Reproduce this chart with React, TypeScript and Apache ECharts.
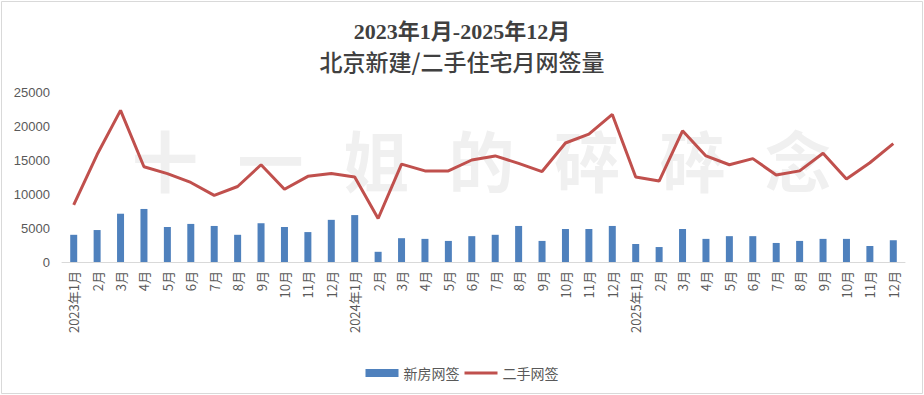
import React, { useEffect, useRef } from "react";
import * as echarts from "echarts";

const titleLine1 = "2023年1月-2025年12月";
const titleLine2 = "北京新建/二手住宅月网签量";
const seriesNames = ["新房网签", "二手网签"];
const watermarkChars = ["十", "一", "姐", "的", "碎", "碎", "念"];

const categories = [
  "2023年1月", "2月", "3月", "4月", "5月", "6月", "7月", "8月", "9月", "10月", "11月", "12月",
  "2024年1月", "2月", "3月", "4月", "5月", "6月", "7月", "8月", "9月", "10月", "11月", "12月",
  "2025年1月", "2月", "3月", "4月", "5月", "6月", "7月", "8月", "9月", "10月", "11月", "12月",
];

const newHouse = [
  4000, 4700, 7100, 7800, 5150, 5600, 5300, 4000, 5700, 5150, 4400, 6200,
  6900, 1500, 3500, 3400, 3100, 3800, 4000, 5300, 3100, 4850, 4850, 5300,
  2650, 2200, 4850, 3400, 3800, 3800, 2800, 3100, 3400, 3400, 2350, 3200,
];

const resale = [
  8400, 15800, 22300, 14000, 13000, 11700, 9800, 11100, 14300, 10700, 12600, 13000,
  12500, 6400, 14400, 13400, 13400, 15000, 15600, 14500, 13300, 17500, 18800, 21700,
  12500, 11900, 19300, 15600, 14300, 15200, 12800, 13400, 16000, 12200, 14600, 17400,
];

const yMax = 25000;
const yInterval = 5000;

export default function App() {
  const ref = useRef<HTMLDivElement>(null);
  useEffect(() => {
    document.body.style.margin = "0";
    if (!ref.current) return;
    const chart = echarts.init(ref.current, null, { renderer: "svg" });
    const cjk = '"Noto Sans CJK SC", "Noto Sans", sans-serif';
    chart.setOption({
      animation: false,
      backgroundColor: "#ffffff",
      title: [
        {
          text: titleLine1,
          left: "center",
          top: 15,
          textStyle: {
            fontFamily: '"Liberation Serif", "Noto Sans CJK SC", serif',
            fontWeight: "bold",
            fontSize: 22,
            color: "#404040",
          },
        },
        {
          text: titleLine2,
          left: "center",
          top: 44,
          textStyle: {
            fontFamily: cjk,
            fontWeight: 500,
            fontSize: 23,
            color: "#404040",
          },
        },
      ],
      graphic: [
        {
          type: "rect",
          shape: { x: 1.5, y: 1.5, width: 921, height: 392 },
          style: { fill: "none", stroke: "#d9d9d9", lineWidth: 1 },
          z: 0,
        },
        ...watermarkChars.map((c, i) => ({
          type: "text",
          x: 165 + i * 105.5,
          y: 158,
          z: 0,
          style: {
            text: c,
            fontSize: 66,
            fontFamily: cjk,
            fontWeight: "bold",
            fill: "#f0f0f0",
            align: "center",
            verticalAlign: "middle",
          },
        })),
      ],
      legend: {
        left: "center",
        top: 361,
        itemGap: 5,
        itemWidth: 33,
        itemHeight: 8,
        textStyle: { fontFamily: cjk, fontSize: 14, color: "#595959" },
        data: [
          { name: seriesNames[0], icon: "rect" },
          { name: seriesNames[1], icon: "path://M0,0 L33,0 L33,3 L0,3 Z" },
        ],
      },
      grid: { left: 62, right: 19, top: 92, bottom: 133, containLabel: false },
      xAxis: {
        type: "category",
        data: categories,
        axisLine: { lineStyle: { color: "#d9d9d9", width: 1 } },
        axisTick: { show: false },
        axisLabel: {
          rotate: 90,
          interval: 0,
          margin: 9,
          fontFamily: cjk,
          fontSize: 13,
          color: "#595959",
        },
      },
      yAxis: {
        type: "value",
        min: 0,
        max: yMax,
        interval: yInterval,
        splitLine: { show: false },
        axisLine: { show: false },
        axisTick: { show: false },
        axisLabel: {
          fontFamily: '"Liberation Sans", "Noto Sans", sans-serif',
          fontSize: 13,
          color: "#595959",
          margin: 12,
          formatter: (v: number) => String(v),
        },
      },
      series: [
        {
          name: seriesNames[0],
          type: "bar",
          data: newHouse,
          barWidth: 7,
          itemStyle: { color: "#4f81bd" },
        },
        {
          name: seriesNames[1],
          type: "line",
          data: resale,
          symbol: "none",
          lineStyle: { color: "#c0504d", width: 3 },
          itemStyle: { color: "#c0504d" },
        },
      ],
    });
    return () => chart.dispose();
  }, []);
  return <div ref={ref} style={{ width: 924, height: 395 }} />;
}
